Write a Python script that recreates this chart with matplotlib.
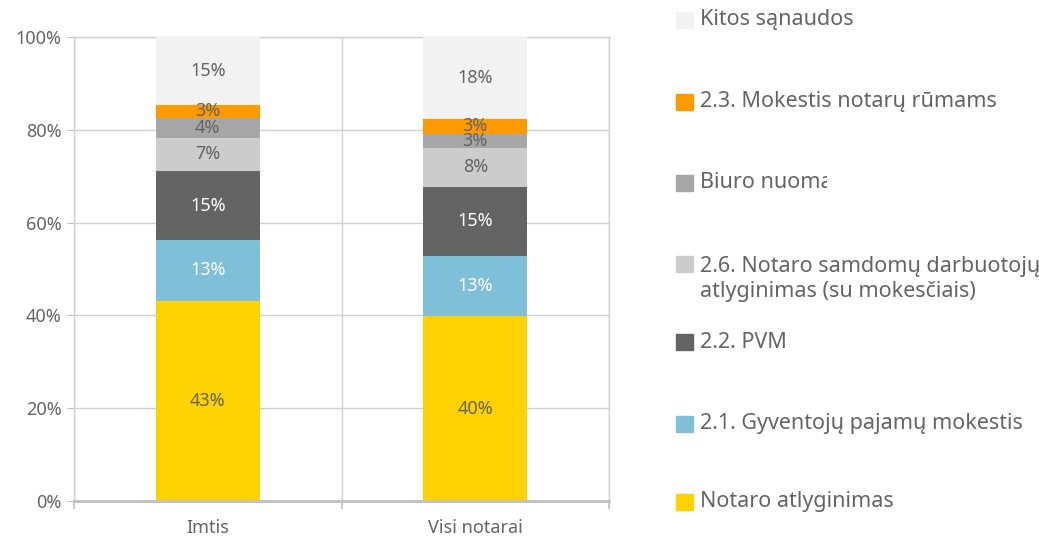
import numpy as np
import matplotlib
matplotlib.use('Agg')
import matplotlib.pyplot as plt
from matplotlib.transforms import Bbox

plt.rcParams['font.family'] = ['Noto Sans', 'DejaVu Sans']

# 데이터
categories = ['Imtis', 'Visi notarai']
series_names = ['Notaro atlyginimas', '2.1. Gyventojų pajamų mokestis', '2.2. PVM',
                '2.6. Notaro samdomų darbuotojų\natlyginimas (su mokesčiais)',
                'Biuro nuoma', '2.3. Mokestis notarų rūmams', 'Kitos sąnaudos']
notaro = [43.2, 39.8]
gpm = [13.0, 13.0]
pvm = [14.9, 14.9]
darbuotoju = [7.2, 8.4]
biuro = [4.2, 3.0]
rumams = [2.9, 3.3]
kitos = [14.6, 17.6]
bar_labels = [['43%', '40%'], ['13%', '13%'], ['15%', '15%'], ['7%', '8%'],
              ['4%', '3%'], ['3%', '3%'], ['15%', '18%']]

colors = ['#ffd200', '#80bfd8', '#646464', '#cccccc', '#a6a6a6', '#ff9900', '#f2f2f2']
label_colors = ['#646464', 'white', 'white', '#646464', '#646464', '#646464', '#646464']
text_gray = '#646464'
grid_gray = '#d0d0d0'

fig = plt.figure(figsize=(10.39, 5.44), dpi=100)
ax = fig.add_axes([74 / 1039, 43 / 544, 535 / 1039, 464 / 544])

x = np.arange(len(categories))
series = [notaro, gpm, pvm, darbuotoju, biuro, rumams, kitos]
bottom = np.zeros(len(categories))
for vals, col, lcol, labs in zip(series, colors, label_colors, bar_labels):
    vals = np.array(vals)
    ax.bar(x, vals, 0.39, bottom=bottom, color=col, zorder=3)
    for xi, v, b, t in zip(x, vals, bottom, labs):
        ax.text(xi, b + v / 2, t, ha='center', va='center', color=lcol,
                fontsize=13, zorder=4)
    bottom += vals

ax.set_xlim(-0.5, 1.5)
ax.set_ylim(0, 100)
ax.set_yticks(np.arange(0, 101, 20))
ax.set_yticklabels([f'{v}%' for v in range(0, 101, 20)])
ax.set_xticks(x)
ax.set_xticklabels(categories)
ax.set_xticks([-0.5, 0.5, 1.5], minor=True)
ax.tick_params(axis='x', which='major', length=0, pad=13, labelsize=13, labelcolor=text_gray)
ax.tick_params(axis='x', which='minor', length=6, color='#bfbfbf', width=1.2)
ax.tick_params(axis='y', length=5, color='#bfbfbf', labelsize=13, labelcolor=text_gray, pad=4)
ax.grid(axis='y', color=grid_gray, linewidth=1, zorder=0)
ax.grid(axis='x', which='minor', color=grid_gray, linewidth=1, zorder=0)
for s in ['top', 'right', 'left']:
    ax.spines[s].set_color(grid_gray)
    ax.spines[s].set_linewidth(1)
ax.spines['bottom'].set_color('#bfbfbf')
ax.spines['bottom'].set_linewidth(2)
ax.spines['bottom'].set_zorder(5)

# 범례 (수동 배치)
legend_y = [20, 102, 183, 279, 342, 424, 502]
legend_order = [6, 5, 4, 3, 2, 1, 0]
for yy, idx in zip(legend_y, legend_order):
    fy = 1 - yy / 544
    if idx == 3:
        sq_y = 1 - 264 / 544
    else:
        sq_y = fy
    fig.patches.append(plt.Rectangle((676 / 1039, sq_y - 8 / 544), 17 / 1039, 16 / 544,
                                     transform=fig.transFigure, color=colors[idx]))
    t = fig.text(700 / 1039, fy, series_names[idx], ha='left', va='center',
                 fontsize=15.5, color=text_gray, linespacing=1.3)
    if idx == 4:
        # 원본처럼 "Biuro nuoma" 끝부분이 잘려 보이게
        t.set_clip_box(Bbox.from_extents(0, 0, 827, 544))
        t.set_clip_on(True)

fig.savefig('out.png', dpi=100)
